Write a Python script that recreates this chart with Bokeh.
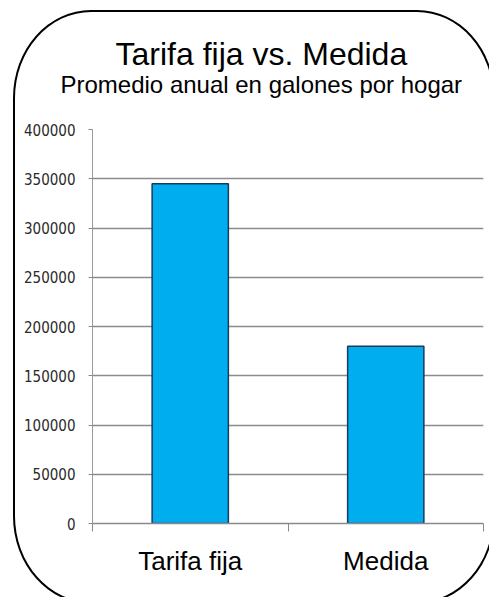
from bokeh.plotting import figure
from bokeh.models import (Range1d, FixedTicker, NumeralTickFormatter, Title,
                          InlineStyleSheet, GlobalInlineStyleSheet, ColumnDataSource)
from bokeh.embed import file_html
from bokeh.resources import INLINE

# ---- data ----
categories = ["Tarifa fija", "Medida"]
values = [345000, 180000]
y_ticks = [0, 50000, 100000, 150000, 200000, 250000, 300000, 350000, 400000]
title_text = "Tarifa fija vs. Medida"
subtitle_text = "Promedio anual en galones por hogar"

xpos = [i + 0.5 for i in range(len(categories))]
bounds = [float(i) for i in range(len(categories) + 1)]

src = ColumnDataSource(dict(x=xpos, top=values, cat=categories))

p = figure(width=489, height=597, output_backend="svg", toolbar_location=None,
           x_range=Range1d(0, len(categories)), y_range=Range1d(0, 400000),
           min_border_left=92, min_border_right=6, min_border_top=0, min_border_bottom=74,
           background_fill_color="white", border_fill_color="white")
p.outline_line_color = None

# title stack (first added sits closest to the plot area)
spacer = Title(text=" ", text_font_size="2px", standoff=28)
sub = Title(text=subtitle_text, align="left", offset=-32, text_font="Liberation Sans",
            text_font_size="24px", text_font_style="normal", text_color="black",
            standoff=0)
main = Title(text=title_text, align="left", offset=23, text_font="Liberation Sans",
             text_font_size="32px", text_font_style="normal", text_color="black",
             standoff=-6)
top_spacer = Title(text=" ", text_font_size="2px", standoff=32)
p.add_layout(spacer, "above")
p.add_layout(sub, "above")
p.add_layout(main, "above")
p.add_layout(top_spacer, "above")

p.vbar(x="x", top="top", width=0.39, bottom=0, source=src,
       fill_color="#00AEEF", line_color="#1B3A5C", line_width=1.5)

# y axis
p.yaxis.ticker = FixedTicker(ticks=y_ticks)
p.yaxis.formatter = NumeralTickFormatter(format="0")
p.yaxis.major_label_text_font = "DejaVu Sans Condensed"
p.yaxis.major_label_text_font_size = "15px"
p.yaxis.major_label_text_color = "#2a2a2a"
p.yaxis.major_label_standoff = 13
p.yaxis.major_tick_out = 4
p.yaxis.major_tick_in = 0
p.yaxis.major_tick_line_color = "#8a8a8a"
p.yaxis.minor_tick_line_color = None
p.yaxis.axis_line_color = "#9a9a9a"
p.yaxis.axis_line_width = 1

# x axis
p.xaxis.ticker = FixedTicker(ticks=xpos, minor_ticks=bounds)
p.xaxis.major_label_overrides = {x: c for x, c in zip(xpos, categories)}
p.xaxis.major_tick_line_color = None
p.xaxis.major_tick_out = 0
p.xaxis.minor_tick_out = 8
p.xaxis.minor_tick_in = 0
p.xaxis.minor_tick_line_color = "#8a8a8a"
p.xaxis.axis_line_color = "#8a8a8a"
p.xaxis.axis_line_width = 1.5
p.xaxis.major_label_text_font = "Liberation Sans"
p.xaxis.major_label_text_font_size = "26px"
p.xaxis.major_label_text_color = "black"
p.xaxis.major_label_standoff = 14

# grid
p.xgrid.grid_line_color = None
p.ygrid.ticker = FixedTicker(ticks=y_ticks)
p.ygrid.grid_line_color = "#8c8c8c"
p.ygrid.grid_line_width = 1.5

frame_css = InlineStyleSheet(css="""
:host { position: relative; overflow: hidden; }
:host::after {
  content: ""; position: absolute; left: 13px; top: 10px;
  width: 482px; height: 594px; box-sizing: border-box;
  border: 2px solid #000; border-radius: 78px / 88px;
  pointer-events: none;
}
""")
page_css = GlobalInlineStyleSheet(css="html, body { overflow: hidden; }")
p.stylesheets = [frame_css, page_css]

open("out.html", "w").write(file_html(p, INLINE))
